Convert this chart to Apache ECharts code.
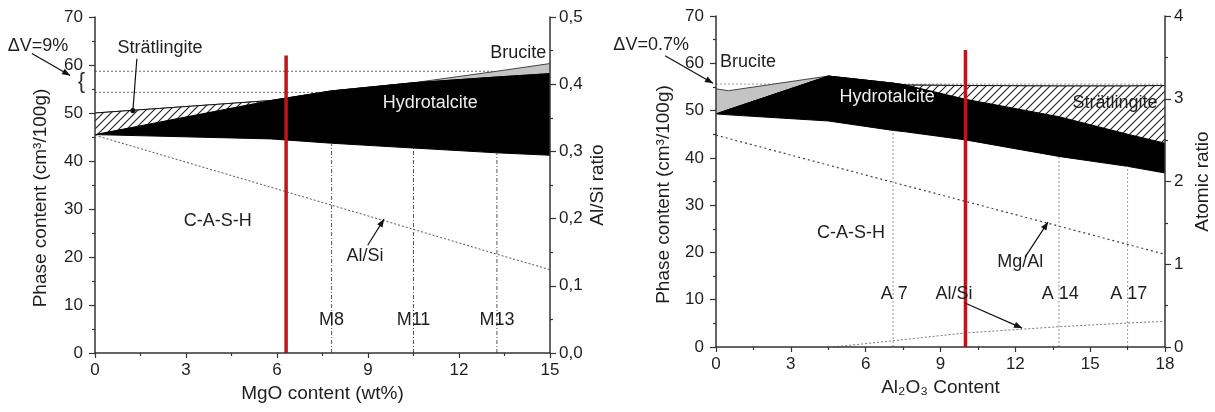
<!DOCTYPE html>
<html><head><meta charset="utf-8">
<script src="https://cdn.jsdelivr.net/npm/echarts@6/dist/echarts.min.js"></script>
<style>html,body{margin:0;padding:0;background:#fff}#c{width:1215px;height:412px}</style>
</head><body><div id="c"></div>
<script>
// ---------- Left panel: MgO content ----------
const mgoX          = [0, 5.8, 7.8, 10.5, 13.25, 15];
const mgoCashTop    = [45.5, 44.6, 43.7, 42.7, 41.7, 41.2];
const mgoHydroTop   = [45.5, 52.6, 54.6, 56.3, 57.5, 58.2];
const mgoStratTop   = [50.0, 52.6, 54.6, 56.3, 57.5, 58.2];
const mgoBruciteTop = [50.0, 52.6, 54.6, 56.3, 58.7, 60.3];
const mgoAlSiX      = [0, 7.8, 10.5, 13.25, 15];
const mgoAlSi       = [0.324, 0.22, 0.184, 0.147, 0.124];
const mgoSampleX    = [7.8, 10.5, 13.25];
const mgoSampleTop  = [43.7, 42.7, 41.7];
const mgoSampleName = ['M8', 'M11', 'M13'];
const mgoRefX = 6.3, mgoRefTop = 62;
const mgoDvLevel = [58.7, 54.3];
const mgoDvEnd   = [13.2, 7.4];

// ---------- Right panel: Al2O3 content ----------
const alX          = [0, 0.5, 4.5, 7.1, 7.6, 10, 13.75, 16.5, 18];
const alCashTop    = [49.3, 49.1, 47.8, 45.8, 45.5, 43.8, 40.3, 38.2, 36.8];
const alHydroTop   = [49.3, 50.2, 57.3, 55.8, 55.4, 52.4, 48.7, 45.0, 43.1];
const alStratTop   = [49.3, 50.2, 57.3, 55.8, 55.4, 55.3, 55.2, 55.2, 55.3];
const alBruciteTop = [54.6, 54.2, 57.3, 55.8, 55.4, 55.3, 55.2, 55.2, 55.3];
const alMgAlX      = [0, 7.1, 10, 13.75, 16.5, 18];
const alMgAl       = [2.56, 1.99, 1.76, 1.46, 1.24, 1.12];
const alAlSiX      = [4.7, 7.1, 10, 13.75, 16.5, 18];
const alAlSi       = [0.0, 0.076, 0.17, 0.245, 0.29, 0.31];
const alSampleX    = [7.1, 13.75, 16.5];
const alSampleTop  = [45.8, 40.3, 38.2];
const alSampleName = ['A 7', 'A 14', 'A 17'];
const alRefX = 10, alRefTop = 62.8;
const alDvLevel = 55.6;

// ---------- helpers ----------
const FONT = '"Liberation Sans", Arial, Helvetica, sans-serif';
const TXT = '#1e1e1e';
const AX = '#333';

const HATCH = (function () {
  const s = 8, c = document.createElement('canvas');
  c.width = s; c.height = s;
  const g = c.getContext('2d');
  g.fillStyle = '#fff'; g.fillRect(0, 0, s, s);
  g.strokeStyle = '#222'; g.lineWidth = 1.1;
  g.beginPath();
  g.moveTo(0, s); g.lineTo(s, 0);
  g.moveTo(-2, 2); g.lineTo(2, -2);
  g.moveTo(s - 2, s + 2); g.lineTo(s + 2, s - 2);
  g.stroke();
  return c;
})();

const pairs = (xs, ys) => xs.map((x, i) => [x, ys[i]]);

// layered areas: each boundary is filled down to the axis, upper phases first
function bands(g, xs, cash, hydro, strat, bruc) {
  const c = {type: 'line', xAxisIndex: g, yAxisIndex: g * 2, symbol: 'none',
             silent: true, animation: false, areaStyle: {origin: 'start', opacity: 1}};
  const mk = (name, ys, line, fill, z) => Object.assign({}, c, {
    name, data: pairs(xs, ys), z, lineStyle: {color: line, width: 1},
    areaStyle: {origin: 'start', opacity: 1, color: fill}});
  return [
    mk('Brucite', bruc, '#444', '#c4c4c4', 2),
    mk('Strätlingite', strat, '#111', {image: HATCH, repeat: 'repeat'}, 3),
    mk('Hydrotalcite', hydro, '#000', '#000', 4),
    mk('C-A-S-H', cash, '#000', '#fff', 5)
  ];
}
function simpleLine(g, yi, data, style, z) {
  return {type: 'line', xAxisIndex: g, yAxisIndex: yi, data, symbol: 'none', silent: true,
          lineStyle: style, z: z, animation: false};
}

function xAx(g, max, name) {
  return {type: 'value', gridIndex: g, min: 0, max, interval: 3,
    name, nameLocation: 'middle', nameGap: 29,
    nameTextStyle: {fontSize: 19, color: TXT, fontFamily: FONT},
    axisLine: {onZero: false, lineStyle: {color: AX, width: 1.5}},
    axisTick: {length: 5, lineStyle: {color: AX, width: 1.2}},
    minorTick: {show: true, splitNumber: 2, length: 3, lineStyle: {color: AX, width: 1.2}},
    axisLabel: {fontSize: 17, color: TXT, fontFamily: FONT, margin: 9},
    splitLine: {show: false}, z: 20};
}
function yAx(g, pos, max, interval, name, gap, fmt, pad) {
  return {type: 'value', gridIndex: g, position: pos, min: 0, max, interval,
    name, nameLocation: 'middle', nameGap: gap,
    nameTextStyle: {fontSize: 19, color: TXT, fontFamily: FONT, padding: pad || 0},
    axisLine: {show: true, onZero: false, lineStyle: {color: AX, width: 1.5}},
    axisTick: {show: true, length: 6, lineStyle: {color: AX, width: 1.2}},
    minorTick: {show: true, splitNumber: 2, length: 3, lineStyle: {color: AX, width: 1.2}},
    axisLabel: {fontSize: 17, color: TXT, fontFamily: FONT, margin: pos === 'left' ? 12 : 9,
                formatter: fmt || (v => String(v))},
    splitLine: {show: false}, z: 20};
}

const series = [];
series.push(...bands(0, mgoX, mgoCashTop, mgoHydroTop, mgoStratTop, mgoBruciteTop));
mgoDvLevel.forEach((lv, i) => series.push(simpleLine(0, 0, [[0, lv], [mgoDvEnd[i], lv]],
  {color: '#666', width: 1, type: [2, 2]}, 1)));
series.push(simpleLine(0, 1, pairs(mgoAlSiX, mgoAlSi), {color: '#555', width: 1, type: [2, 2]}, 7));
mgoSampleX.forEach((x, i) => series.push(simpleLine(0, 0, [[x, 0], [x, mgoSampleTop[i]]],
  {color: '#555', width: 1, type: [4, 2, 1, 2]}, 7)));
series.push(simpleLine(0, 0, [[mgoRefX, 0], [mgoRefX, mgoRefTop]], {color: '#c0141c', width: 3.5}, 9));

series.push(...bands(1, alX, alCashTop, alHydroTop, alStratTop, alBruciteTop));
series.push(simpleLine(1, 2, [[0, alDvLevel], [18, alDvLevel]], {color: '#999', width: 1, type: [2, 2]}, 1));
series.push(simpleLine(1, 3, pairs(alMgAlX, alMgAl), {color: '#444', width: 1.2, type: [2, 3]}, 7));
series.push(simpleLine(1, 3, pairs(alAlSiX, alAlSi), {color: '#777', width: 1, type: [2, 2]}, 7));
alSampleX.forEach((x, i) => series.push(simpleLine(1, 2, [[x, 0], [x, alSampleTop[i]]],
  {color: '#999', width: 1, type: [2, 2]}, 7)));
series.push(simpleLine(1, 2, [[alRefX, 0], [alRefX, alRefTop]], {color: '#c0141c', width: 3.5}, 9));

const comma = v => v.toFixed(1).replace('.', ',');

const option = {
  animation: false,
  backgroundColor: '#fff',
  grid: [
    {left: 95, right: 665, top: 17, bottom: 59},
    {left: 716, right: 50, top: 16, bottom: 65}
  ],
  xAxis: [xAx(0, 15, 'MgO content (wt%)'), xAx(1, 18, 'Al\u2082O\u2083 Content')],
  yAxis: [
    yAx(0, 'left', 70, 10, 'Phase content (cm\u00b3/100g)', 45, null, [0, 26, 0, 0]),
    yAx(0, 'right', 0.5, 0.1, 'Al/Si ratio', 38, comma),
    yAx(1, 'left', 70, 10, 'Phase content (cm\u00b3/100g)', 43, null, [0, 26, 0, 0]),
    yAx(1, 'right', 4, 1, 'Atomic ratio', 28)
  ],
  series
};

const chart = echarts.init(document.getElementById('c'));
chart.setOption(option);

// ---------- annotations (placed in data space) ----------
const notes = [
  {g: 0, x: 2.14, y: 63.6, t: 'Strätlingite'},
  {g: 0, x: -1.88, y: 64.0, t: '\u0394V=9%'},
  {g: 0, x: 13.95, y: 62.4, t: 'Brucite'},
  {g: 0, x: 11.05, y: 52.0, t: 'Hydrotalcite', c: '#eee'},
  {g: 0, x: 4.05, y: 27.4, t: 'C-A-S-H'},
  {g: 0, x: 8.9, y: 20.2, t: 'Al/Si'},
  {g: 1, x: -2.6, y: 63.8, t: '\u0394V=0.7%'},
  {g: 1, x: 1.28, y: 60.3, t: 'Brucite'},
  {g: 1, x: 6.86, y: 52.9, t: 'Hydrotalcite', c: '#eee'},
  {g: 1, x: 16.0, y: 51.6, t: 'Strätlingite'},
  {g: 1, x: 5.41, y: 24.1, t: 'C-A-S-H'},
  {g: 1, x: 12.2, y: 18.0, t: 'Mg/Al'},
  {g: 1, x: 9.54, y: 11.2, t: 'Al/Si'}
];
mgoSampleX.forEach((x, i) => notes.push({g: 0, x: x, y: 6.9, t: mgoSampleName[i]}));
alSampleX.forEach((x, i) => notes.push({g: 1, x: x + 0.05, y: 11.2, t: alSampleName[i]}));

const arrows = [
  {g: 0, a: [1.38, 61.3], b: [1.25, 50.5], dot: true},
  {g: 0, a: [-2.08, 62.4], b: [-0.82, 57.8]},
  {g: 0, a: [8.99, 22.45], b: [9.53, 27.9]},
  {g: 1, a: [-2.04, 61.6], b: [-0.12, 55.8]},
  {g: 1, a: [12.39, 19.0], b: [13.31, 26.4]},
  {g: 1, a: [9.98, 9.3], b: [12.27, 4.0]}
];

const P = (g, x, y) => chart.convertToPixel({xAxisIndex: g, yAxisIndex: g * 2}, [x, y]);
const gfx = [];
notes.forEach(n => {
  const p = P(n.g, n.x, n.y);
  gfx.push({type: 'text', x: p[0], y: p[1], z: 100, silent: true,
    style: {text: n.t, fill: n.c || TXT, font: '18px ' + FONT,
      textAlign: 'center', textVerticalAlign: 'middle', align: 'center', verticalAlign: 'middle'}});
});
(function () {
  const p = P(0, -0.45, (mgoDvLevel[0] + mgoDvLevel[1]) / 2);
  gfx.push({type: 'text', x: p[0], y: p[1], z: 100, silent: true,
    style: {text: '{', fill: '#333', font: '22px ' + FONT,
      textAlign: 'center', textVerticalAlign: 'middle', align: 'center', verticalAlign: 'middle'}});
})();
arrows.forEach(ar => {
  const a = P(ar.g, ar.a[0], ar.a[1]), b = P(ar.g, ar.b[0], ar.b[1]);
  gfx.push({type: 'line', z: 100, silent: true, shape: {x1: a[0], y1: a[1], x2: b[0], y2: b[1]},
    style: {stroke: '#111', lineWidth: 1.2}});
  if (ar.dot) {
    gfx.push({type: 'circle', z: 100, silent: true, shape: {cx: b[0], cy: b[1], r: 2.6}, style: {fill: '#111'}});
  } else {
    const dx = b[0] - a[0], dy = b[1] - a[1], L = Math.hypot(dx, dy);
    const ux = dx / L, uy = dy / L, hl = 8, hw = 3.2;
    const bx = b[0] - ux * hl, by = b[1] - uy * hl;
    gfx.push({type: 'polygon', z: 100, silent: true,
      shape: {points: [[b[0], b[1]], [bx - uy * hw, by + ux * hw], [bx + uy * hw, by - ux * hw]]},
      style: {fill: '#111'}});
  }
});
chart.setOption({graphic: {elements: gfx}});
</script>
</body></html>
